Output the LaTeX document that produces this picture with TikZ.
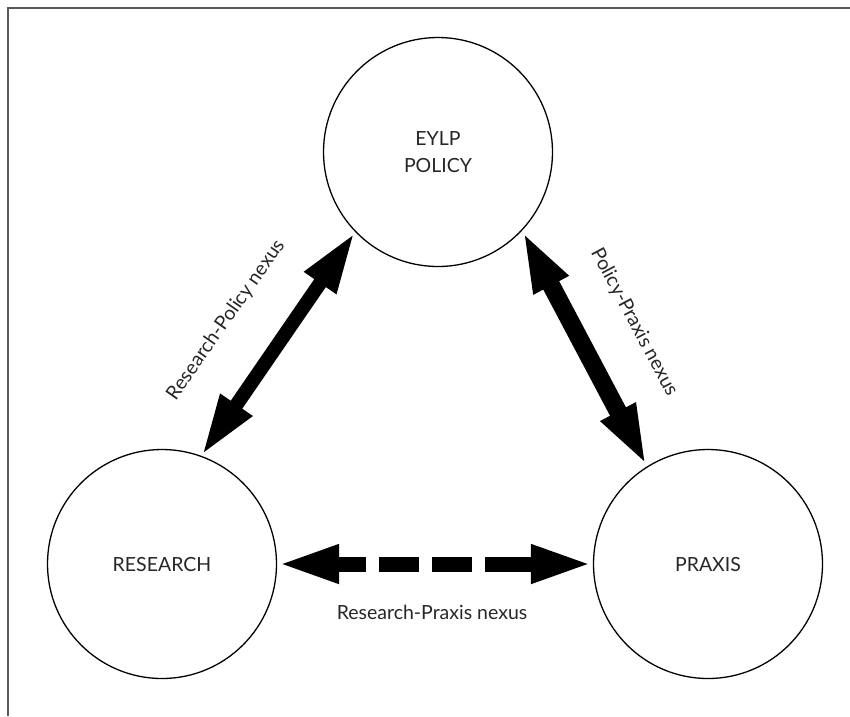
\documentclass[tikz,border=0pt]{standalone}
\usepackage{fontspec}
\setmainfont{Lato}
\usetikzlibrary{arrows.meta}
\begin{document}
\begin{tikzpicture}[x=1pt,y=-1pt,
  ring/.style={draw,circle,line width=1.3pt,minimum size=229pt,inner sep=0pt,align=center,
    font=\fontsize{19.5}{27}\selectfont,text=black!85},
  nexus/.style={font=\fontsize{19.5}{22}\selectfont,text=black!85},
  fat/.style={line width=#1,{Triangle[length=62pt,width=35pt]}-{Triangle[length=62pt,width=35pt]}}]
\useasboundingbox (0,0) rectangle (850,716);
\draw[gray!70!black,line width=2pt] (8,716) -- (8,8) -- (850,8);
\node[ring] (1) at (438,152) {EYLP\\POLICY};
\node[ring] (2) at (162,564) {RESEARCH};
\node[ring] (3) at (708,564) {PRAXIS};
\path[draw,fat=14pt] (2.70) -- (1.224);
\path[draw,fat=18pt] (1.-43) -- (3.122);
\path[draw,fat=15pt,dash pattern=on 31pt off 13pt on 40pt off 13pt on 40pt off 13pt on 60pt] (2.east) -- (3.west);
\node[nexus,rotate=55] (4) at (226,320) {Research-Policy nexus};
\node[nexus,rotate=-62] (5) at (634,322) {Policy-Praxis nexus};
\node[nexus] (6) at (432,612) {Research-Praxis nexus};
\end{tikzpicture}
\end{document}
